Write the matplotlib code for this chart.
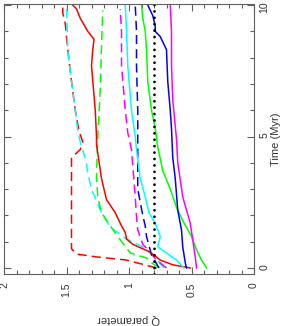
import matplotlib
matplotlib.use("Agg")
import matplotlib.pyplot as plt

# -----------------------------
# Data (Q parameter vs time, Myr)
# -----------------------------
t_red_dash = [0, 0.3, 0.42, 0.53, 0.73, 0.95, 2.7, 4.2, 4.5, 4.8, 5.2, 6.0, 7.1, 8.3, 9.3, 9.7, 10.0]
q_red_dash = [0.78, 1.02, 1.26, 1.42, 1.46, 1.46, 1.46, 1.46, 1.39, 1.37, 1.40, 1.43, 1.46, 1.49, 1.51, 1.53, 1.53]

t_cyan_dash = [0, 0.4, 0.8, 1.1, 1.55, 2.2, 3.0, 3.6, 4.0, 4.8, 5.2, 6.0, 7.1, 8.3, 10.0]
q_cyan_dash = [0.72, 0.79, 0.89, 1.02, 1.15, 1.23, 1.30, 1.33, 1.34, 1.39, 1.41, 1.43, 1.46, 1.49, 1.50]

t_red = [0, 0.12, 0.3, 0.6, 0.9, 1.1, 1.35, 1.6, 2.1, 2.6, 3.4, 4.7, 5.0, 6.0, 7.7, 8.3, 8.7, 9.0, 9.5, 9.85, 10.0]
q_red = [0.51, 0.65, 0.75, 0.83, 0.97, 1.02, 1.03, 1.06, 1.11, 1.18, 1.22, 1.26, 1.26, 1.27, 1.30, 1.29, 1.28, 1.33, 1.39, 1.42, 1.45]

t_green_dash = [0, 0.2, 0.38, 0.57, 1.07, 1.6, 2.1, 2.7, 3.5, 5.0, 6.8, 8.4, 9.8]
q_green_dash = [0.76, 0.82, 0.86, 0.99, 1.07, 1.15, 1.22, 1.25, 1.26, 1.25, 1.23, 1.22, 1.21]

t_mag_dash = [0, 0.3, 0.7, 0.9, 1.45, 1.95, 2.7, 4.5, 5.15, 6.0, 7.7, 9.0, 9.85]
q_mag_dash = [0.70, 0.78, 0.85, 0.89, 0.93, 0.94, 0.95, 0.98, 1.01, 1.03, 1.06, 1.06, 1.07]

t_blue_dash = [0, 0.5, 1.2, 1.6, 2.0, 3.0, 4.0, 5.15, 6.0, 7.7, 9.0, 10.0]
q_blue_dash = [0.76, 0.82, 0.86, 0.87, 0.89, 0.93, 0.93, 0.93, 0.93, 0.94, 0.94, 0.95]

t_cyan = [0, 0.3, 0.57, 0.8, 1.2, 1.7, 2.1, 2.7, 3.4, 4.5, 5.0, 6.0, 7.7, 9.0, 10.0]
q_cyan = [0.56, 0.62, 0.70, 0.77, 0.75, 0.79, 0.84, 0.87, 0.91, 0.94, 0.95, 0.98, 1.01, 1.02, 1.03]

t_green = [0, 0.3, 0.7, 1.2, 1.8, 2.3, 3.0, 3.7, 4.6, 5.3, 6.0, 7.1, 8.3, 9.0, 9.5, 10.0]
q_green = [0.38, 0.42, 0.46, 0.50, 0.57, 0.62, 0.67, 0.73, 0.77, 0.79, 0.82, 0.85, 0.86, 0.87, 0.89, 0.90]

t_blue = [0, 0.2, 0.8, 1.45, 2.2, 3.4, 4.2, 5.3, 6.0, 7.1, 8.3, 8.4, 8.8, 9.0, 9.2, 9.6, 10.0]
q_blue = [0.54, 0.55, 0.57, 0.58, 0.61, 0.63, 0.65, 0.66, 0.67, 0.69, 0.70, 0.71, 0.75, 0.79, 0.79, 0.81, 0.85]

t_mag = [0, 0.42, 1.07, 1.7, 2.7, 4.0, 4.9, 5.4, 6.4, 7.7, 9.0, 10.0]
q_mag = [0.46, 0.47, 0.49, 0.51, 0.57, 0.61, 0.62, 0.63, 0.65, 0.66, 0.66, 0.67]

q_ref = 0.8
t_ref = [-0.23, 10.04]

q_ticks = [2, 1.5, 1, 0.5, 0]
q_tick_labels = ["2", "1.5", "1", "0.5", "0"]
t_ticks = [0, 5, 10]
t_tick_labels = ["0", "5", "10"]

# -----------------------------
# Plot (rotated layout: Q along bottom, time along right)
# -----------------------------
plt.rcParams["font.family"] = ["Liberation Sans", "DejaVu Sans"]

fig = plt.figure(figsize=(2.88, 3.26), dpi=100)
ax = fig.add_axes([4 / 288, 52 / 326, 250 / 288, 270 / 326])

lw = 1.1
dash = (0, (6, 3.3))

ax.plot(q_red_dash, t_red_dash, color="#ff0000", lw=lw, linestyle=dash)
ax.plot(q_cyan_dash, t_cyan_dash, color="#00ffff", lw=lw, linestyle=dash)
ax.plot(q_green_dash, t_green_dash, color="#00ff00", lw=lw, linestyle=dash)
ax.plot(q_mag_dash, t_mag_dash, color="#ff00ff", lw=lw, linestyle=dash)
ax.plot(q_blue_dash, t_blue_dash, color="#0000ff", lw=lw, linestyle=dash)

ax.plot(q_red, t_red, color="#ff0000", lw=lw)
ax.plot(q_cyan, t_cyan, color="#00ffff", lw=lw)
ax.plot(q_green, t_green, color="#00ff00", lw=lw)
ax.plot(q_blue, t_blue, color="#0000ff", lw=lw)
ax.plot(q_mag, t_mag, color="#ff00ff", lw=lw)

ax.plot([q_ref, q_ref], t_ref, color="black", lw=2.0,
        linestyle=(0, (0.01, 2.3)), dash_capstyle="round")

ax.set_xlim(2, 0)
ax.set_ylim(-0.23, 10.04)

ax.set_xticks(q_ticks)
ax.set_xticklabels(q_tick_labels)
ax.set_xticks([i / 10 for i in range(21)], minor=True)
ax.set_yticks(t_ticks)
ax.set_yticklabels(t_tick_labels)
ax.set_yticks(range(11), minor=True)

axis_col = "#606060"
for s in ax.spines.values():
    s.set_color(axis_col)
    s.set_linewidth(0.8)

ax.tick_params(which="both", direction="in", top=True, bottom=True,
               left=True, right=True, labelleft=False, labelright=True,
               color=axis_col, labelcolor="#333333", labelsize=7.5)
ax.tick_params(which="major", length=5, width=0.8)
ax.tick_params(which="minor", length=3, width=0.8)
ax.tick_params(axis="x", labelrotation=90, pad=6)
ax.tick_params(axis="y", labelrotation=90, pad=4)

ax.set_xlabel("Q parameter", rotation=180, fontsize=8, color="#333333", labelpad=12)
ax.yaxis.set_label_position("right")
ax.set_ylabel("Time (Myr)", rotation=90, fontsize=8, color="#333333", labelpad=1)

fig.savefig("out.png", dpi=100)
plt.close(fig)
